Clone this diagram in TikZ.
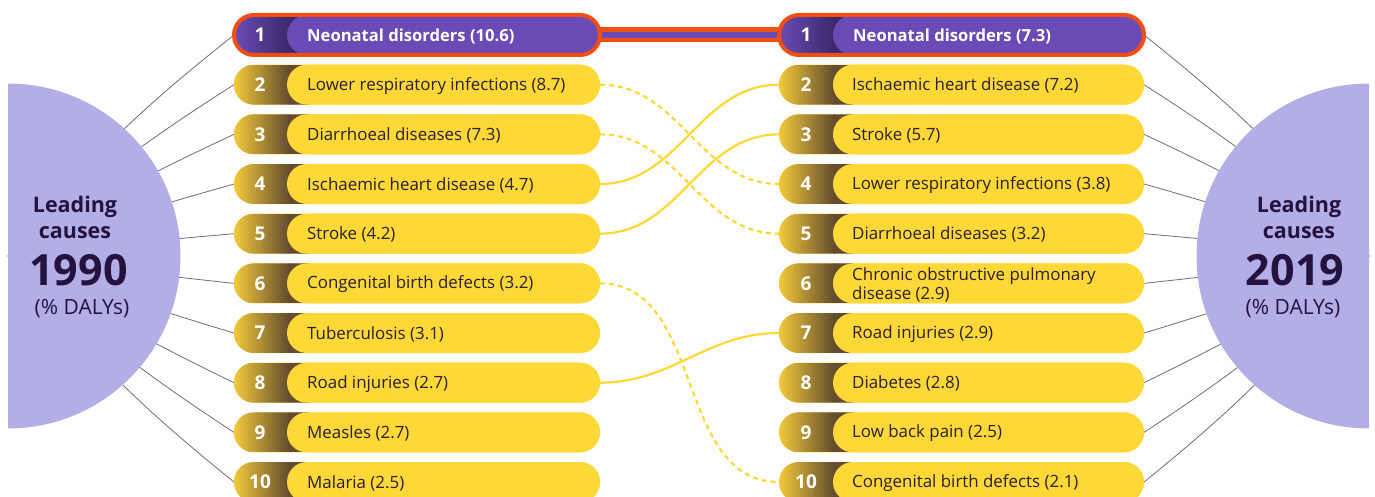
\documentclass[tikz,border=0pt]{standalone}
\usepackage{fontspec}
\setmainfont{Open Sans}
\definecolor{pillY}{HTML}{FDD837}
\definecolor{gradL}{HTML}{F2C83A}
\definecolor{gradR}{HTML}{644D2E}
\definecolor{pillP}{HTML}{6A4BB5}
\definecolor{gradP}{HTML}{3C296C}
\definecolor{ringO}{HTML}{F04E12}
\definecolor{circP}{HTML}{B4AEE6}
\definecolor{txtdark}{HTML}{2A1F33}
\definecolor{circtxt}{HTML}{24123F}
\definecolor{lineG}{HTML}{6E6E6E}
\pgfdeclarelayer{back}
\pgfdeclarelayer{mid}
\pgfsetlayers{back,mid,main}
\newcommand{\stripgrad}[2]{%
  \foreach \k in {0,...,27}{%
    \pgfmathsetmacro\xa{2*\k}%
    \pgfmathsetmacro\xb{2*\k+2.4}%
    \pgfmathsetmacro\pc{100*\k/27}%
    \fill[sharp corners, #2!\pc!#1] ([xshift=\xa pt]path picture bounding box.north west) rectangle ([xshift=\xb pt]path picture bounding box.south west);
  }%
  \fill[sharp corners, #2] ([xshift=55pt]path picture bounding box.north west) rectangle ([xshift=74pt]path picture bounding box.south west);%
}
\begin{document}
\begin{tikzpicture}[x=1pt,y=-1pt,
  pill/.style={rectangle, rounded corners=19.9pt, minimum height=40pt, inner sep=0pt, outer sep=0pt},
  yshade/.style={fill=pillY, path picture={\stripgrad{gradL}{gradR}}},
  pshade/.style={fill=pillP, path picture={\stripgrad{pillP}{gradP}}},
  inpill/.style={rectangle, rounded corners=19.9pt, minimum height=40pt, inner sep=0pt, outer sep=0pt},
  lbl/.style={anchor=west, inner sep=0pt, align=left, font=\fontsize{16.9}{19}\selectfont},
  numtxt/.style={text=white, font=\fontsize{19}{20}\selectfont\bfseries, inner sep=0pt},
  gline/.style={draw=lineG, line width=0.8pt},
  link/.style={draw=pillY, line width=2.2pt},
  dlink/.style={draw=pillY, line width=2.2pt, dash pattern=on 5pt off 4pt},
  ctxt/.style={text=circtxt, inner sep=0pt, align=center}
]
\useasboundingbox (0,0) rectangle (1375,497);
\clip (0,0) rectangle (1375,497);

\coordinate (CL) at (8,256);
\coordinate (CR) at (1369,256);

% ---- row 1 (highlighted)
\node[pill, pshade, minimum width=366pt] (L1) at (417,35) {};
\node[inpill, minimum width=313pt, fill=pillP] (LB1) at (443.5,35) {};
\node[lbl, text=white, font=\fontsize{16.6}{19}\selectfont\bfseries] (LT1) at ([xshift=20pt,yshift=-1.2pt]LB1.west) {Neonatal disorders (10.6)};
\node[numtxt] (LN1) at (260,35) {1};
\draw[ringO, line width=4pt, rounded corners=19.9pt] (L1.north west) rectangle (L1.south east);

\node[pill, pshade, minimum width=365pt] (R1) at (961.5,35) {};
\node[inpill, minimum width=311pt, fill=pillP] (RB1) at (988.5,35) {};
\node[lbl, text=white, font=\fontsize{16.6}{19}\selectfont\bfseries] (RT1) at ([xshift=20pt,yshift=-1.2pt]RB1.west) {Neonatal disorders (7.3)};
\node[numtxt] (RN1) at (806,35) {1};
\draw[ringO, line width=4pt, rounded corners=19.9pt] (R1.north west) rectangle (R1.south east);

% ---- left column
\foreach \i/\t in {2/Lower respiratory infections (8.7),3/Diarrhoeal diseases (7.3),4/Ischaemic heart disease (4.7),5/Stroke (4.2),6/Congenital birth defects (3.2),7/Tuberculosis (3.1),8/Road injuries (2.7),9/Measles (2.7),10/Malaria (2.5)}{
  \pgfmathsetmacro\yy{35+(\i-1)*49.67}
  \node[pill, yshade, minimum width=366pt] (L\i) at (417,\yy) {};
  \node[inpill, minimum width=313pt, fill=pillY] (LB\i) at (443.5,\yy) {};
  \node[lbl, text=txtdark] (LT\i) at ([xshift=20pt,yshift=-1.2pt]LB\i.west) {\t};
  \node[numtxt] (LN\i) at (260,\yy) {\i};
}
% ---- right column
\foreach \i/\t in {2/Ischaemic heart disease (7.2),3/Stroke (5.7),4/Lower respiratory infections (3.8),5/Diarrhoeal diseases (3.2),6/{Chronic obstructive pulmonary\\disease (2.9)},7/Road injuries (2.9),8/Diabetes (2.8),9/Low back pain (2.5),10/Congenital birth defects (2.1)}{
  \pgfmathsetmacro\yy{35+(\i-1)*49.67}
  \node[pill, yshade, minimum width=365pt] (R\i) at (961.5,\yy) {};
  \node[inpill, minimum width=311pt, fill=pillY] (RB\i) at (988.5,\yy) {};
  \node[lbl, text=txtdark] (RT\i) at ([xshift=19pt,yshift=-1.2pt]RB\i.west) {\t};
  \node[numtxt] (RN\i) at (806,\yy) {\i};
}

% ---- fan lines and circles
\begin{pgfonlayer}{back}
  \foreach \i in {1,...,10}{
    \pgfmathsetmacro\bb{6*((35+(\i-1)*49.67)-256)/221}
    \draw[gline] (L\i.west) to[bend left=\bb] (CL);
    \draw[gline] (R\i.east) to[bend right=\bb] (CR);
  }
  \draw[ringO, line width=15pt] (L1.east) -- (R1.west);
  \draw[pillP, line width=6pt] (L1.east) -- (R1.west);
  \draw[dlink] (L2.east) to[out=0,in=180] (R4.west);
  \draw[dlink] (L3.east) to[out=0,in=180] (R5.west);
  \draw[link] (L4.east) to[out=0,in=180] (R2.west);
  \draw[link] (L5.east) to[out=0,in=180] (R3.west);
  \draw[dlink] (L6.east) to[out=0,in=180] (R10.west);
  \draw[link] (L8.east) to[out=0,in=180] (R7.west);
\end{pgfonlayer}
\begin{pgfonlayer}{mid}
  \begin{scope}
    \clip (8,0) rectangle (700,497);
    \fill[circP] (CL) circle (172.5);
  \end{scope}
  \begin{scope}
    \clip (700,0) rectangle (1369,497);
    \fill[circP] (CR) circle (172.5);
  \end{scope}
  \node[ctxt, font=\fontsize{21.5}{26}\selectfont\bfseries] (lt1) at (75,217) {Leading\\causes};
  \node[ctxt, font=\fontsize{43}{46}\selectfont\bfseries] (lt2) at (78.5,270) {1990};
  \node[ctxt, font=\fontsize{21}{24}\selectfont] (lt3) at (82,309) {(\% DALYs)};
  \node[ctxt, font=\fontsize{21.5}{26}\selectfont\bfseries] (rt1) at (1299,217) {Leading\\causes};
  \node[ctxt, font=\fontsize{43}{46}\selectfont\bfseries] (rt2) at (1295,270) {2019};
  \node[ctxt, font=\fontsize{21}{24}\selectfont] (rt3) at (1293,309) {(\% DALYs)};
\end{pgfonlayer}
\end{tikzpicture}
\end{document}
